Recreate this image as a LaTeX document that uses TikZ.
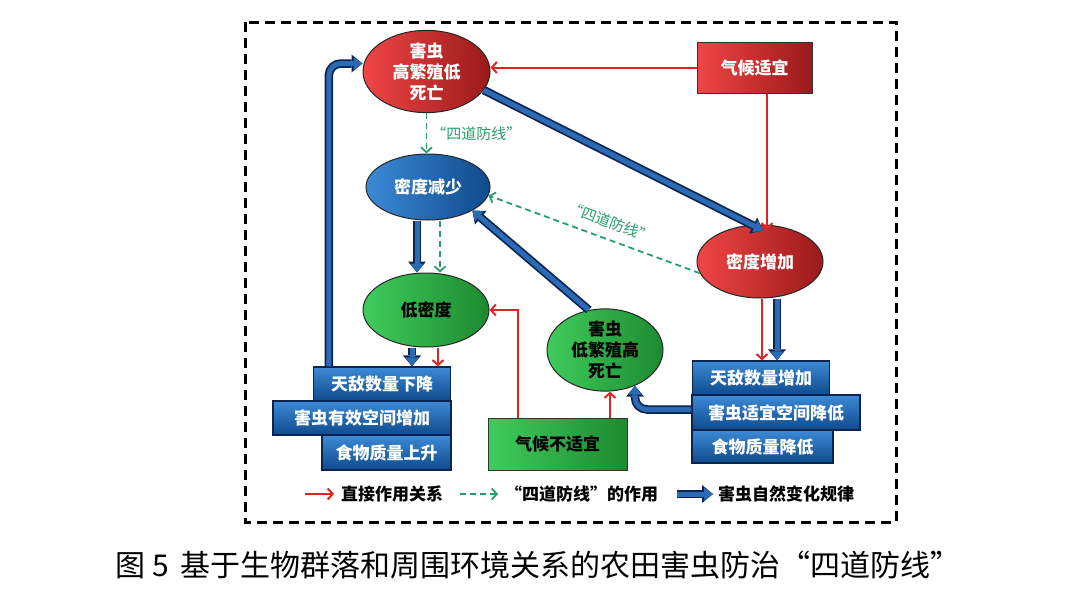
\documentclass[tikz,border=0pt]{standalone}
\usepackage{fontspec}
\newfontfamily\cjk{Noto Sans CJK SC}
\usetikzlibrary{shapes.geometric,arrows.meta}
\definecolor{redL}{HTML}{F04545}
\definecolor{redD}{HTML}{9A1A1A}
\definecolor{blueL}{HTML}{3C8AD6}
\definecolor{blueD}{HTML}{0F4A8C}
\definecolor{greenL}{HTML}{40CC5C}
\definecolor{greenD}{HTML}{1C8A30}
\definecolor{navy}{HTML}{0B2452}
\definecolor{blueA}{HTML}{2A6BB4}
\definecolor{redA}{HTML}{E02424}
\definecolor{greenA}{HTML}{2A9E6A}
\tikzset{
  bigfont/.style={font=\cjk\bfseries\fontsize{17}{21}\selectfont},
  ell/.style={ellipse, draw=black!85, line width=1pt, inner sep=0pt, align=center, bigfont},
  redell/.style={ell, left color=redL, right color=redD, text=white},
  blueell/.style={ell, left color=blueL, right color=blueD, text=white},
  greenell/.style={ell, left color=greenL, right color=greenD, text=black},
  redbox/.style={rectangle, draw=black!80, line width=1pt, left color=redL, right color=redD,
    text=white, inner sep=0pt, bigfont},
  greenbox/.style={rectangle, draw=black!80, line width=1pt, left color=greenL, right color=greenD,
    text=black, inner sep=0pt, bigfont},
  stackbox/.style={rectangle, draw=navy, line width=1.3pt, top color=blueL, bottom color=blueD,
    text=white, inner sep=0pt, bigfont},
  redarrow/.style={draw=redA, line width=2pt, -{Straight Barb[length=5pt,width=11pt,line width=2pt]}},
  greenarrow/.style={draw=greenA, line width=1.8pt, dash pattern=on 6pt off 4pt,
    -{Straight Barb[length=5pt,width=11pt,line width=1.8pt]}},
  bluearrow/.style={line width=5pt, draw=blueA, -{Triangle[length=9pt,width=13pt,line width=0pt]},
    preaction={draw=navy, line width=8.5pt, -{Triangle[length=11pt,width=18pt,line width=0pt]}}},
  legtext/.style={font=\cjk\bfseries\fontsize{17}{20}\selectfont, inner sep=0pt, anchor=west},
  lbl/.style={font=\cjk\fontsize{15}{17}\selectfont, text=greenA, inner sep=1pt}
}
\begin{document}
\begin{tikzpicture}[x=1pt,y=-1pt]
\useasboundingbox (0,0) rectangle (1080,605);
\fill[white] (0,0) rectangle (1080,605);
% frame
\draw[line width=3pt, dash pattern=on 10pt off 6pt] (245,22) rectangle (896,522);

% nodes
\node[redell, minimum width=127pt, minimum height=73pt] (E1) at (426.5,71.5) {害虫\\高繁殖低\\死亡};
\node[redbox, minimum width=115pt, minimum height=51pt] (B1) at (754.5,67.5) {气候适宜};
\node[blueell, minimum width=124pt, minimum height=66pt] (M1) at (428,187) {密度减少};
\node[redell, minimum width=126pt, minimum height=73pt] (M2) at (760,261.5) {密度增加};
\node[greenell, minimum width=126pt, minimum height=74pt] (G1) at (426,310) {低密度};
\node[greenell, minimum width=116pt, minimum height=74pt] (G2) at (605,350) {害虫\\低繁殖高\\死亡};
\node[greenbox, minimum width=139pt, minimum height=52pt] (B2) at (557.5,444) {气候不适宜};

\node[stackbox, minimum width=137pt, minimum height=34pt] (L1) at (382,384) {天敌数量下降};
\node[stackbox, minimum width=178pt, minimum height=34pt] (L2) at (362,418) {害虫有效空间增加};
\node[stackbox, minimum width=129pt, minimum height=35pt] (L3) at (386.5,452.5) {食物质量上升};

\node[stackbox, minimum width=137pt, minimum height=34pt] (R1) at (761,378) {天敌数量增加};
\node[stackbox, minimum width=168pt, minimum height=35pt] (R2) at (776,412.5) {害虫适宜空间降低};
\node[stackbox, minimum width=141pt, minimum height=33pt] (R3) at (762.5,446.5) {食物质量降低};

% blue natural-change arrows
\draw[bluearrow] (E1.-18) -- ([xshift=3pt,yshift=-6pt]M2.north);
\draw[bluearrow] ([xshift=-11pt]M1.south) -- ([xshift=-11pt]M1.south |- G1.north);
\draw[bluearrow] ([xshift=-14pt]G1.south) -- ([xshift=-14pt]G1.south |- L1.north);
\draw[bluearrow, rounded corners=12pt] ([xshift=16pt]L1.north west) |- ([yshift=8pt]E1.west);
\draw[bluearrow] (G2.112) -- (M1.-28);
\draw[bluearrow] ([xshift=17pt]M2.south) -- ([xshift=17pt]M2.south |- R1.north);
\draw[bluearrow, rounded corners=12pt] ([yshift=3pt]R2.west) -| (G2.-50);

% red direct arrows
\draw[redarrow] (B1.west) -- (B1.west -| E1.east);
\draw[redarrow] ([xshift=12.5pt]B1.south) -- ([xshift=12.5pt,yshift=-5pt]B1.south |- M2.north);
\draw[redarrow] ([xshift=2pt]M2.south) -- ([xshift=2pt]M2.south |- R1.north);
\draw[redarrow] ([xshift=12pt]G1.south) -- ([xshift=12pt]G1.south |- L1.north);
\draw[redarrow] ([xshift=30pt]B2.north west) |- (G1.east);
\draw[redarrow] ([xshift=5pt]G2.south |- B2.north) -- ([xshift=5pt]G2.south);

% green dashed arrows
\draw[greenarrow] (E1.south) -- (E1.south |- M1.north)
  node[lbl, midway, right=3pt] {“四道防线”};
\draw[greenarrow] ([xshift=12pt]M1.south) -- ([xshift=12pt]M1.south |- G1.north);
\draw[greenarrow] (M2.191) -- (M1.-8)
  node[lbl, pos=0.45, sloped, above=8pt] {“四道防线”};

% legend
\coordinate (r1) at (305,494); \coordinate (r2) at (334,494);
\draw[redarrow] (r1) -- (r2);
\node[legtext] (t1) at (341,494) {直接作用关系};
\coordinate (g1) at (460,494); \coordinate (g2) at (498,494);
\draw[greenarrow] (g1) -- (g2);
\node[legtext] (t2) at (505,494) {“四道防线”的作用};
\coordinate (b1) at (677,494); \coordinate (b2) at (713,494);
\draw[bluearrow] (b1) -- (b2);
\node[legtext] (t3) at (718,494) {害虫自然变化规律};

% caption
\node[font=\cjk\fontsize{30}{33}\selectfont, inner sep=0pt] (cap) at (538,565)
  {图 5\hspace{0.4em}基于生物群落和周围环境关系的农田害虫防治“四道防线”};
\end{tikzpicture}
\end{document}
